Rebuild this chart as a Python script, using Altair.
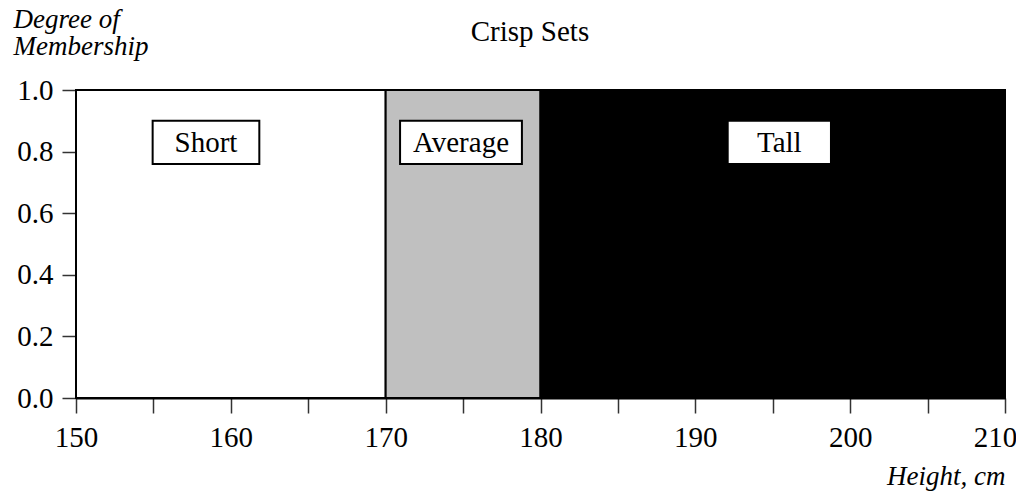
import altair as alt
import pandas as pd

# Data
sets = ["Short", "Average", "Tall"]
set_start = [150, 170, 180]
set_end = [170, 180, 210]
membership = [1.0, 1.0, 1.0]
set_colors = ["#ffffff", "#c0c0c0", "#000000"]

# label box extents (data units)
box_x1 = [154.95, 170.93, 192.09]
box_x2 = [161.84, 178.80, 198.76]
box_y1 = [0.76, 0.76, 0.76]
box_y2 = [0.90, 0.90, 0.90]

x_ticks = [150, 155, 160, 165, 170, 175, 180, 185, 190, 195, 200, 205, 210]
y_ticks = [0.0, 0.2, 0.4, 0.6, 0.8, 1.0]

FONT = "Liberation Serif"
FS = 29
FSI = 27

df = pd.DataFrame({
    "set": sets, "start": set_start, "end": set_end, "m": membership,
    "bx1": box_x1, "bx2": box_x2, "by1": box_y1, "by2": box_y2,
})
df["bxc"] = (df["bx1"] + df["bx2"]) / 2
df["byc"] = (df["by1"] + df["by2"]) / 2

xscale = alt.Scale(domain=[150, 210], nice=False, zero=False)
yscale = alt.Scale(domain=[0, 1], nice=False)

base = alt.Chart(df)

rects = base.mark_rect(stroke="black", strokeWidth=2).encode(
    x=alt.X("start:Q", scale=xscale, axis=alt.Axis(
        values=x_ticks, labelExpr="datum.value % 10 == 0 ? datum.label : ''",
        format="d", tickSize=15, tickColor="#333333", tickWidth=1.5,
        domainColor="black", domainWidth=2, labelFont=FONT, labelFontSize=FS,
        labelColor="black", labelBaseline="alphabetic", labelPadding=33,
        labelOffset={"expr": "datum.value == 210 ? -10 : 0"},
        grid=False, labelFlush=False, labelOverlap=False,
        title="Height, cm", titleFont=FONT, titleFontSize=FSI, titleFontStyle="italic",
        titleFontWeight="normal", titleColor="black", titleAnchor="end", titleAlign="right",
        titleBaseline="alphabetic", titleX=929, titleY=86,
    )),
    x2="end:Q",
    y=alt.Y("m:Q", scale=yscale, axis=alt.Axis(
        values=y_ticks, format=".1f", tickSize=14, tickColor="#333333", tickWidth=1.5,
        domainColor="black", domainWidth=2, labelFont=FONT, labelFontSize=FS,
        labelColor="black", labelPadding=9, grid=False, labelFlush=False,
        title=["Degree of", "Membership"], titleFont=FONT, titleFontSize=FSI,
        titleFontStyle="italic", titleFontWeight="normal", titleColor="black",
        titleAngle=0, titleAlign="left", titleBaseline="alphabetic",
        titleX=-63, titleY=-63, titleLineHeight=27,
    )),
    y2=alt.datum(0),
    fill=alt.Fill("set:N", scale=alt.Scale(domain=sets, range=set_colors), legend=None),
)

boxes = base.mark_rect(fill="white", stroke="black", strokeWidth=2).encode(
    x=alt.X("bx1:Q", scale=xscale),
    x2="bx2:Q",
    y=alt.Y("by1:Q", scale=yscale),
    y2="by2:Q",
)

texts = base.mark_text(font=FONT, fontSize=FS, color="black", baseline="middle", dy=1).encode(
    x=alt.X("bxc:Q", scale=xscale),
    y=alt.Y("byc:Q", scale=yscale),
    text="set:N",
)

title = alt.Chart(pd.DataFrame({"t": ["Crisp Sets"]})).mark_text(
    font=FONT, fontSize=FS, color="black", baseline="alphabetic", align="center"
).encode(x=alt.value(454), y=alt.value(-49), text="t:N")

chart = (rects + boxes + texts + title).properties(
    width=929, height=308,
    padding={"left": 68, "top": 82, "right": 11, "bottom": 94},
    autosize=alt.AutoSizeParams(type="none"),
).configure_view(stroke=None)

chart.save("out.html", embed_options={"renderer": "svg", "actions": False})
